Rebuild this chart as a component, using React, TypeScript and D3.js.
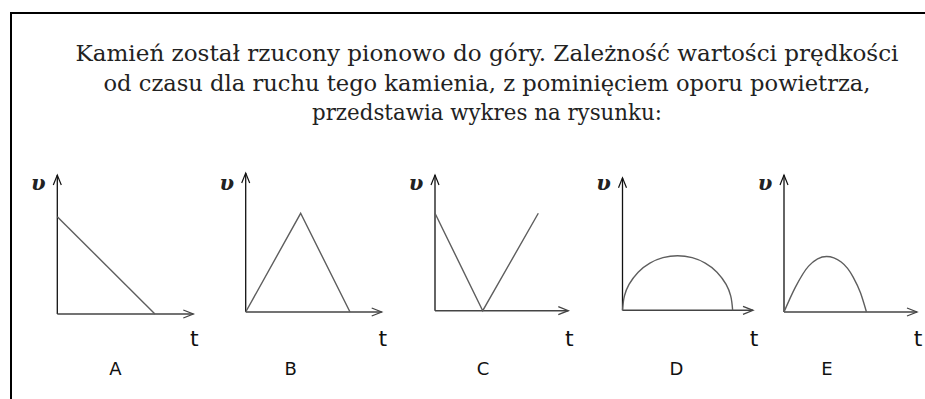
import { useEffect, useRef } from "react";
import * as d3 from "d3";

// title lines (Polish, keep as is)
const titleLines = [
  "Kamień został rzucony pionowo do góry. Zależność wartości prędkości",
  "od czasu dla ruchu tego kamienia, z pominięciem oporu powietrza,",
  "przedstawia wykres na rysunku:",
];

// panel letters and axis labels
const panelNames = ["A", "B", "C", "D", "E"];
const labelV = "υ";
const labelT = "t";

// series per panel, [t, v] in panel units (0..10 on both axes)
const seriesA: [number, number][] = [[0, 7.0], [7.18, 0]];
const seriesB: [number, number][] = [[0, 0], [4.04, 7.1], [7.67, 0]];
const seriesC: [number, number][] = [[0, 7.18], [3.58, 0], [7.75, 7.18]];
const seriesD: [number, number][] = [
  [0, 0], [0.15, 1.09], [0.5, 1.95], [1.2, 2.88], [2.1, 3.56], [3.1, 3.97],
  [4.22, 4.12], [5.34, 3.97], [6.34, 3.56], [7.24, 2.88], [7.94, 1.95],
  [8.29, 1.09], [8.44, 0],
];
const seriesE: [number, number][] = [
  [0, 0], [0.85, 1.8], [1.85, 3.35], [3.2, 4.05], [4.3, 3.65], [5.2, 2.55],
  [5.75, 1.4], [6.2, 0],
];
const allSeries = [seriesA, seriesB, seriesC, seriesD, seriesE];
// curve type per panel
const curves = [
  d3.curveLinear,
  d3.curveLinear,
  d3.curveLinear,
  d3.curveCatmullRom.alpha(0.5),
  d3.curveMonotoneX,
];

// layout of each panel: origin and axis lengths in px
const layout = [
  { ox: 57.3, oy: 314, w: 136, h: 139 },
  { ox: 245.7, oy: 312, w: 136, h: 139 },
  { ox: 435, oy: 310.7, w: 133.3, h: 135.7 },
  { ox: 622.5, oy: 310.3, w: 130.5, h: 132.5 },
  { ox: 784, oy: 312, w: 133, h: 137 },
];

const width = 925;
const height = 399;

const App = () => {
  const svgRef = useRef<SVGSVGElement>(null);

  useEffect(() => {
    const svg = d3.select(svgRef.current);
    svg.selectAll("*").remove();

    svg.append("rect").attr("width", width).attr("height", height).attr("fill", "#fff");

    // frame (only left and top edges are visible)
    svg
      .append("path")
      .attr("d", `M11,${height} V13 H${width}`)
      .attr("fill", "none")
      .attr("stroke", "#000")
      .attr("stroke-width", 2);

    // title
    const lineWidths = [823, 767, 350];
    svg
      .append("g")
      .attr("font-family", "DejaVu Serif")
      .attr("font-size", 23)
      .selectAll("text")
      .data(titleLines)
      .join("text")
      .attr("x", 487)
      .attr("y", (d, i) => 61 + i * 29.5)
      .attr("text-anchor", "middle")
      .attr("textLength", (d, i) => lineWidths[i])
      .attr("lengthAdjust", "spacingAndGlyphs")
      .attr("fill", "#222")
      .text((d) => d);

    allSeries.forEach((data, i) => {
      const { ox, oy, w, h } = layout[i];
      const x = d3.scaleLinear().domain([0, 10]).range([ox, ox + w]);
      const y = d3.scaleLinear().domain([0, 10]).range([oy, oy - h]);
      const g = svg.append("g");

      const xEnd = x(10);
      const yTop = y(10);

      // axes
      g.append("line")
        .attr("x1", x(0)).attr("y1", y(0)).attr("x2", x(0)).attr("y2", yTop)
        .attr("stroke", "#111").attr("stroke-width", 1.3);
      g.append("line")
        .attr("x1", x(0)).attr("y1", y(0)).attr("x2", xEnd).attr("y2", y(0))
        .attr("stroke", "#444").attr("stroke-width", 1.4);

      // open arrow heads
      g.append("path")
        .attr("d", `M${x(0) - 4},${yTop + 10} L${x(0)},${yTop} L${x(0) + 4},${yTop + 10}`)
        .attr("fill", "none").attr("stroke", "#111").attr("stroke-width", 1.2);
      g.append("path")
        .attr("d", `M${xEnd - 10},${y(0) - 4} L${xEnd},${y(0)} L${xEnd - 10},${y(0) + 4}`)
        .attr("fill", "none").attr("stroke", "#444").attr("stroke-width", 1.3);

      // the curve
      const line = d3
        .line<[number, number]>()
        .x((d) => x(d[0]))
        .y((d) => y(d[1]))
        .curve(curves[i]);
      g.append("path")
        .attr("d", line(data))
        .attr("fill", "none")
        .attr("stroke", "#5e5e5e")
        .attr("stroke-width", 1.4);

      // labels
      g.append("text")
        .attr("x", x(0) - 19)
        .attr("y", 190)
        .attr("text-anchor", "middle")
        .attr("font-family", "DejaVu Serif")
        .attr("font-style", "italic")
        .attr("font-weight", "bold")
        .attr("font-size", 21)
        .attr("fill", "#222")
        .text(labelV);
      g.append("text")
        .attr("x", xEnd + 1)
        .attr("y", 346)
        .attr("text-anchor", "middle")
        .attr("font-family", "DejaVu Sans")
        .attr("font-size", 22)
        .attr("fill", "#111")
        .text(labelT);
      g.append("text")
        .attr("x", x(0) + [58, 45, 48, 54, 43][i])
        .attr("y", 375)
        .attr("text-anchor", "middle")
        .attr("font-family", "DejaVu Sans")
        .attr("font-size", 18)
        .attr("fill", "#111")
        .text(panelNames[i]);
    });
  }, []);

  return (
    <svg
      ref={svgRef}
      width={width}
      height={height}
      style={{ position: "absolute", left: 0, top: 0 }}
    ></svg>
  );
};

export default App;
